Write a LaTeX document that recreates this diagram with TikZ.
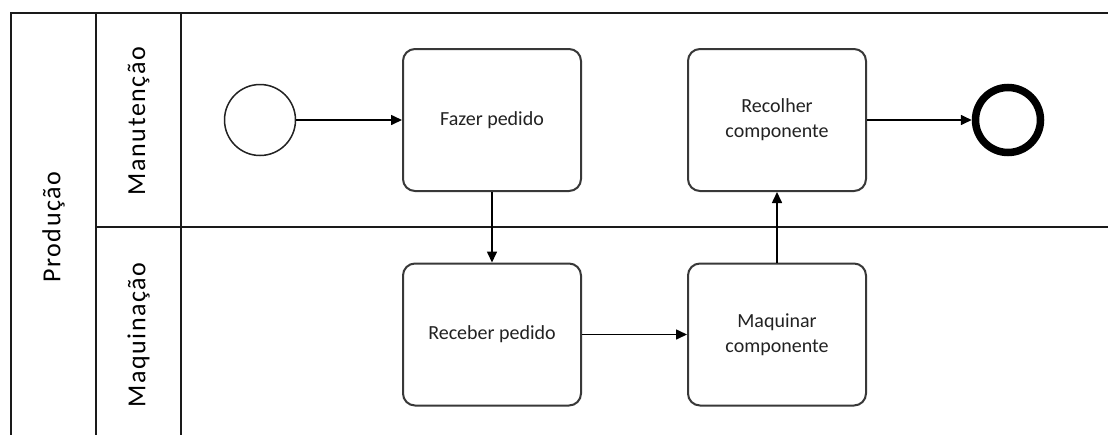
\documentclass[tikz,border=0pt]{standalone}
\usepackage{fontspec}
\setmainfont{Carlito}
\newfontfamily\lanefont[LetterSpace=6]{Carlito}
\usetikzlibrary{arrows.meta}
\definecolor{ink}{HTML}{222222}
\definecolor{frame}{HTML}{1A1A1A}
\tikzset{
  poolline/.style={draw=frame, line width=2.4pt},
  lanelabel/.style={rotate=90, font=\lanefont\fontsize{26}{30}\selectfont, text=black, inner sep=0pt},
  task/.style={draw=ink!90, line width=2pt, rounded corners=12pt, fill=white,
    minimum width=178pt, minimum height=142pt, inner sep=0pt, align=center,
    font=\fontsize{20}{25}\selectfont, text=ink},
  startev/.style={circle, draw=ink, line width=1.5pt, minimum size=71pt, inner sep=0pt, fill=white},
  endev/.style={circle, draw=black, line width=7.5pt, minimum size=65pt, inner sep=0pt, fill=white},
  flow/.style={draw=black, line width=1.6pt, -{Triangle[length=11pt,width=10pt]}}
}
\begin{document}
\begin{tikzpicture}[x=1pt, y=-1pt]
  \useasboundingbox (0,0) rectangle (1108,434);
  \fill[white] (0,0) rectangle (1108,434);
  % pool and lane frame
  \begin{scope}
    \clip (0,0) rectangle (1108,434);
    \draw[poolline] (11,445) -- (11,13) -- (1120,13);
    \draw[poolline] (96,13) -- (96,445);
    \draw[poolline] (181,13) -- (181,445);
    \draw[poolline] (96,227) -- (1120,227);
  \end{scope}
  % pool and lane titles
  \node[lanelabel] (pool) at (53.5,227) {Produção};
  \node[lanelabel] (laneA) at (138.5,121) {Manutenção};
  \node[lanelabel] (laneB) at (138.5,335) {Maquinação};
  % events and tasks
  \node[startev] (start) at (260,120) {};
  \node[task] (fazer) at (492,120) {Fazer pedido};
  \node[task] (recolher) at (777,120) {Recolher\\componente};
  \node[endev] (fim) at (1008,120) {};
  \node[task] (receber) at (492,334.5) {Receber pedido};
  \node[task] (maquinar) at (777,334.5) {Maquinar\\componente};
  % sequence flows
  \draw[flow] (start) -- (fazer);
  \draw[flow] (fazer) -- (receber);
  \draw[flow] (receber) -- (maquinar);
  \draw[flow] (maquinar) -- (recolher);
  \draw[flow] (recolher) -- (fim);
\end{tikzpicture}
\end{document}
